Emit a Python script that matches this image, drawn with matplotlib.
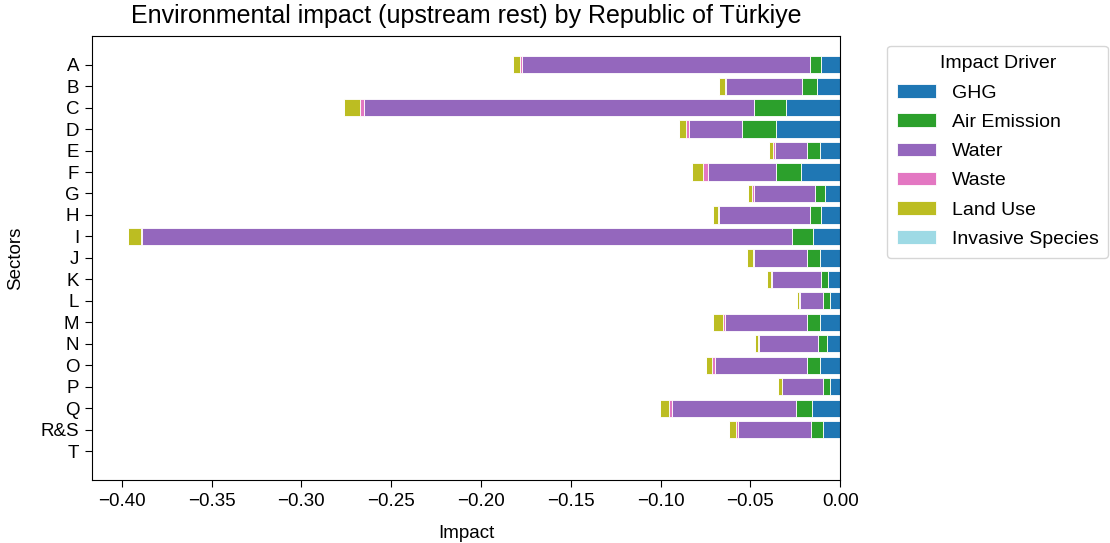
"""
Stacked horizontal bars of the upstream environmental impact
per sector, split by impact driver.
"""

import numpy as np
import matplotlib.pyplot as plt

plt.rcParams['font.family'] = ['Liberation Sans', 'DejaVu Sans']
plt.rcParams['font.size'] = 13.5
plt.rcParams['xtick.major.size'] = 4.7
plt.rcParams['ytick.major.size'] = 4.7
plt.rcParams['xtick.major.pad'] = 4.5
plt.rcParams['ytick.major.pad'] = 4.5

sectors = ["A", "B", "C", "D", "E", "F", "G", "H", "I", "J",
           "K", "L", "M", "N", "O", "P", "Q", "R&S", "T"]

drivers = ["GHG", "Air Emission", "Water", "Waste", "Land Use", "Invasive Species"]
colors = ["#1f77b4", "#2ca02c", "#9467bd", "#e377c2", "#bcbd22", "#9edae5"]

ghg = [-0.0106, -0.0129, -0.0300, -0.0356, -0.0115, -0.0218, -0.0083, -0.0106, -0.0154, -0.0115,
       -0.0067, -0.0059, -0.0115, -0.0074, -0.0115, -0.0059, -0.0156, -0.0098, 0.0]
air_emission = [-0.0065, -0.0082, -0.0182, -0.0190, -0.0072, -0.0138, -0.0056, -0.0065, -0.0114, -0.0072,
                -0.0040, -0.0039, -0.0072, -0.0050, -0.0072, -0.0039, -0.0088, -0.0065, 0.0]
water = [-0.1603, -0.0426, -0.2170, -0.0298, -0.0176, -0.0383, -0.0344, -0.0503, -0.3621, -0.0291,
         -0.0272, -0.0128, -0.0457, -0.0326, -0.0511, -0.0224, -0.0695, -0.0409, 0.0]
waste = [-0.0008, -0.0006, -0.0024, -0.0013, -0.0009, -0.0024, -0.0008, -0.0008, -0.0004, -0.0007,
         -0.0008, -0.0006, -0.0008, -0.0006, -0.0017, -0.0004, -0.0015, -0.0007, 0.0]
land_use = [-0.0039, -0.0031, -0.0089, -0.0041, -0.0022, -0.0061, -0.0024, -0.0025, -0.0074, -0.0037,
            -0.0022, -0.0011, -0.0055, -0.0020, -0.0031, -0.0020, -0.0050, -0.0039, 0.0]
invasive_species = [0.0] * len(sectors)

series = [ghg, air_emission, water, waste, land_use, invasive_species]

fig = plt.figure(figsize=(11.1, 5.43), dpi=100)
ax = fig.add_axes([0.083, 0.116, 0.674, 0.818])

y = np.arange(len(sectors))
left = np.zeros(len(sectors))
for name, vals, c in zip(drivers, series, colors):
    vals = np.array(vals)
    ax.barh(y, vals, left=left, color=c, edgecolor="white", linewidth=0.6, label=name)
    left = left + vals

ax.set_yticks(y)
ax.set_yticklabels(sectors)
ax.invert_yaxis()
ax.set_xlim(-0.4165, 0)
ax.set_xlabel("Impact", labelpad=11)
ax.set_ylabel("Sectors", labelpad=12)
ax.set_title("Environmental impact (upstream rest) by Republic of Türkiye", fontsize=18, pad=9)
ax.legend(title="Impact Driver", bbox_to_anchor=(1.05, 1), loc="upper left",
          fontsize=14, title_fontsize=14, labelspacing=0.6, borderpad=0.5)

fig.savefig("out.png", dpi=100)
